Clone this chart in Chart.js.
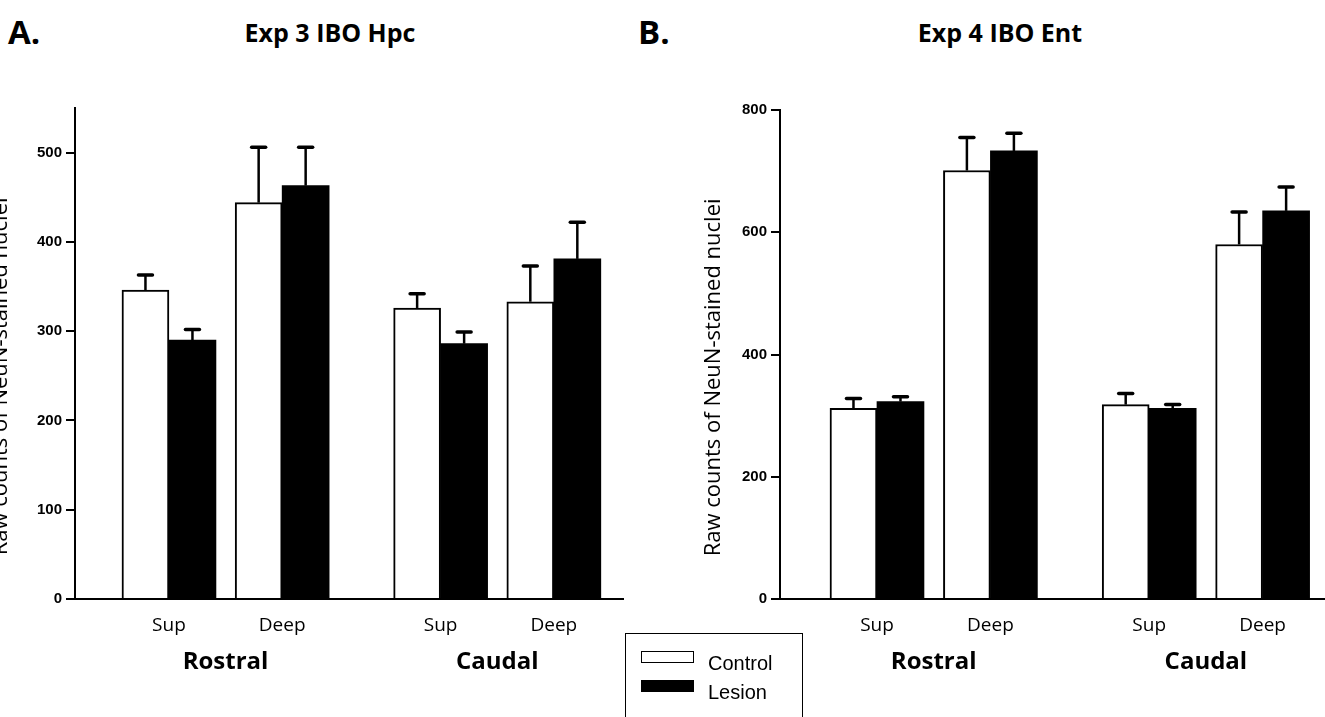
<!DOCTYPE html>
<html>
<head>
<meta charset="utf-8">
<script src="https://cdn.jsdelivr.net/npm/chart.js@4"></script>
<style>
    body { margin: 0; background: #fff; width: 1325px; height: 717px; overflow: hidden; position: relative; font-family: "Open Sans", sans-serif; }
    canvas { position: absolute; top: 0; }
    #chartA { left: -15px; }
    #chartB { left: 690px; }
    .painel { position: absolute; font-weight: bold; font-size: 33px; line-height: 33px; color: #000; }
    .titulo { position: absolute; font-weight: bold; font-size: 25px; line-height: 25px; color: #000; transform: translateX(-50%); white-space: nowrap; }
    #legenda { position: absolute; left: 625px; top: 633px; width: 176px; height: 100px; border: 1.5px solid #000; border-bottom: none; }
    .caixa { position: absolute; left: 15px; width: 51px; height: 10px; border: 1.5px solid #000; }
    .rotulo { position: absolute; left: 82px; font-family: "Liberation Sans", Arial, sans-serif; font-size: 20px; line-height: 20px; color: #000; }
</style>
</head>
<body>
<div class="painel" style="left:8px; top:15px;">A.</div>
<div class="titulo" style="left:330px; top:20px;">Exp 3 IBO Hpc</div>
<div class="painel" style="left:638px; top:15px;">B.</div>
<div class="titulo" style="left:1000px; top:20px;">Exp 4 IBO Ent</div>

<canvas id="chartA" width="639" height="717"></canvas>
<canvas id="chartB" width="635" height="717"></canvas>

<div id="legenda">
    <div class="caixa" style="top:17px; background:#fff;"></div>
    <div class="rotulo" style="top:19px;">Control</div>
    <div class="caixa" style="top:46px; background:#000;"></div>
    <div class="rotulo" style="top:48px;">Lesion</div>
</div>

<script>
// categorias e grupos
const camadas = ["Sup", "Deep", "Sup", "Deep"];
const regioes = ["Rostral", "Caudal"];
const posicoes = [0, 1, 2.4, 3.4];

// Exp 3 IBO Hpc
const controleA = [346, 444, 326, 333];
const controleErroA = [17, 62, 16, 40];
const lesaoA = [290, 463, 286, 381];
const lesaoErroA = [12, 43, 13, 41];
const ticksA = [0, 100, 200, 300, 400, 500];

// Exp 4 IBO Ent
const controleB = [312, 701, 318, 580];
const controleErroB = [16, 54, 18, 53];
const lesaoB = [323, 733, 312, 635];
const lesaoErroB = [8, 29, 6, 39];
const ticksB = [0, 200, 400, 600, 800];

// espaços no fim só para descer um pouco o texto girado
const tituloY = "Raw counts of NeuN-stained nuclei        ";

const barrasDeErro = {
    id: "barrasDeErro",
    afterDatasetsDraw(chart) {
        const ctx = chart.ctx;
        const escalaY = chart.scales.y;
        chart.data.datasets.forEach(function (ds, i) {
            const meta = chart.getDatasetMeta(i);
            meta.data.forEach(function (barra, j) {
                const topo = escalaY.getPixelForValue(ds.data[j].y + ds.erros[j]);
                ctx.save();
                ctx.strokeStyle = "#000";
                ctx.lineWidth = 2.5;
                ctx.beginPath();
                ctx.moveTo(barra.x, barra.y);
                ctx.lineTo(barra.x, topo);
                ctx.stroke();
                ctx.lineWidth = 3.5;
                ctx.lineCap = "round";
                ctx.beginPath();
                ctx.moveTo(barra.x - 7, topo);
                ctx.lineTo(barra.x + 7, topo);
                ctx.stroke();
                ctx.restore();
            });
        });
    }
};

function pares(valores) {
    return valores.map(function (v, i) {
        return { x: posicoes[i], y: v };
    });
}

function criarPainel(canvasId, controle, erroControle, lesao, erroLesao, yMax, yTicks, xMin, xMax, topo, recuoTitulo) {
    const meios = [(posicoes[0] + posicoes[1]) / 2, (posicoes[2] + posicoes[3]) / 2];

    new Chart(document.getElementById(canvasId), {
        type: "bar",
        data: {
            datasets: [{
                label: "Control",
                data: pares(controle),
                erros: erroControle,
                backgroundColor: "#fff",
                borderColor: "#000",
                borderWidth: 2,
                borderSkipped: "bottom",
                barThickness: 47
            }, {
                label: "Lesion",
                data: pares(lesao),
                erros: erroLesao,
                backgroundColor: "#000",
                borderColor: "#000",
                borderWidth: 0,
                barThickness: 47
            }]
        },
        options: {
            responsive: false,
            animation: false,
            layout: { padding: { top: topo, bottom: 38, left: 0, right: 0 } },
            plugins: {
                legend: { display: false },
                tooltip: { enabled: false }
            },
            scales: {
                x: {
                    type: "linear",
                    min: xMin,
                    max: xMax,
                    offset: false,
                    afterBuildTicks: function (s) {
                        s.ticks = posicoes.map(function (v) { return { value: v }; });
                    },
                    afterFit: function (s) { s.height = 40; },
                    grid: { display: false, drawTicks: false },
                    border: { display: true, color: "#000", width: 2 },
                    ticks: {
                        autoSkip: false,
                        maxRotation: 0,
                        padding: 15,
                        color: "#000",
                        font: { family: "Open Sans", size: 19 },
                        callback: function (v, i) { return camadas[i]; }
                    }
                },
                x2: {
                    type: "linear",
                    position: "bottom",
                    min: xMin,
                    max: xMax,
                    offset: false,
                    afterBuildTicks: function (s) {
                        s.ticks = meios.map(function (v) { return { value: v }; });
                    },
                    afterFit: function (s) { s.height = 40; },
                    grid: { display: false, drawTicks: false },
                    border: { display: false },
                    ticks: {
                        autoSkip: false,
                        maxRotation: 0,
                        padding: 9,
                        color: "#000",
                        font: { family: "Open Sans", size: 24, weight: "bold" },
                        callback: function (v, i) { return regioes[i]; }
                    }
                },
                y: {
                    min: 0,
                    max: yMax,
                    afterBuildTicks: function (s) {
                        s.ticks = yTicks.map(function (v) { return { value: v }; });
                    },
                    afterFit: function (s) { s.width = 90; },
                    border: { color: "#000", width: 2 },
                    grid: { drawOnChartArea: false, drawTicks: true, tickLength: 9, color: "#000", lineWidth: 2 },
                    ticks: {
                        padding: 4,
                        color: "#000",
                        font: { family: "Liberation Sans", size: 15, weight: "bold" }
                    },
                    title: {
                        display: true,
                        text: tituloY,
                        color: "#000",
                        font: { family: "Open Sans", size: 22 },
                        padding: { top: recuoTitulo, bottom: 0 }
                    }
                }
            }
        },
        plugins: [barrasDeErro]
    });
}

criarPainel("chartA", controleA, controleErroA, lesaoA, lesaoErroA, 550, ticksA, -0.83, 4.02, 108, 3);
criarPainel("chartB", controleB, controleErroB, lesaoB, lesaoErroB, 800, ticksB, -0.855, 3.95, 110, 11);
</script>
</body>
</html>
